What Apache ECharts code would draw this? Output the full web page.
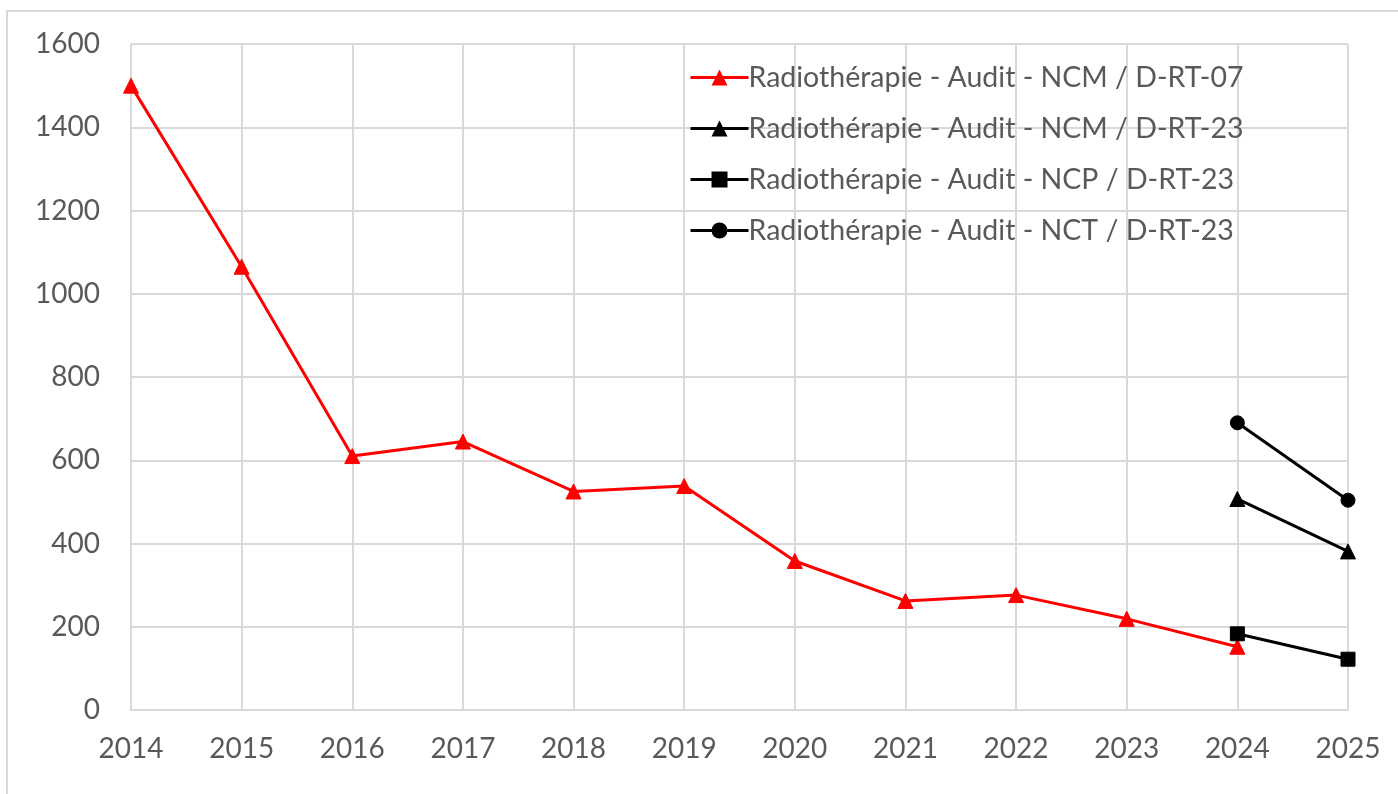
<!DOCTYPE html>
<html>
<head>
<meta charset="utf-8">
<script src="https://cdn.jsdelivr.net/npm/echarts@6/dist/echarts.min.js"></script>
<style>
html, body { margin: 0; padding: 0; background: #fff; }
#main { width: 1398px; height: 794px; }
</style>
</head>
<body>
<div id="main"></div>
<script>
var years = ['2014', '2015', '2016', '2017', '2018', '2019', '2020', '2021', '2022', '2023', '2024', '2025']
var ncm07 = [1500, 1065, 610, 645, 525, 538, 358, 262, 276, 219, 152, null]
var ncm23 = [null, null, null, null, null, null, null, null, null, null, 507, 381]
var ncp23 = [null, null, null, null, null, null, null, null, null, null, 183, 122]
var nct23 = [null, null, null, null, null, null, null, null, null, null, 690, 504]
var yTicks = [0, 200, 400, 600, 800, 1000, 1200, 1400, 1600]

var font = 'Lato, "Open Sans", sans-serif'
var textColor = '#595959'
var gridColor = '#d9d9d9'

function mkSeries(name, data, color, symbol, size) {
    return {
        name: name,
        type: 'line',
        data: data,
        symbol: symbol,
        symbolSize: size,
        showAllSymbol: true,
        connectNulls: false,
        lineStyle: { color: color, width: 3 },
        itemStyle: { color: color, borderColor: color },
        emphasis: { disabled: true },
        z: 3
    }
}

var chart = echarts.init(document.getElementById('main'))
var option = {
    backgroundColor: '#fff',
    animation: false,
    textStyle: { fontFamily: font },
    graphic: [{
        type: 'rect',
        shape: { x: 7, y: 11, width: 1400, height: 800 },
        style: { fill: 'none', stroke: gridColor, lineWidth: 2 },
        silent: true
    }],
    grid: {
        left: 131,
        right: 50,
        top: 44,
        bottom: 84
    },
    legend: {
        orient: 'vertical',
        left: 684,
        top: 58,
        itemWidth: 58,
        itemHeight: 20,
        itemGap: 22,
        lineStyle: { width: 3 },
        textStyle: { color: textColor, fontSize: 28.5, fontFamily: font, padding: [0, 0, 0, -5] },
        data: [
            'Radiothérapie - Audit - NCM / D-RT-07',
            'Radiothérapie - Audit - NCM / D-RT-23',
            'Radiothérapie - Audit - NCP / D-RT-23',
            'Radiothérapie - Audit - NCT / D-RT-23'
        ]
    },
    xAxis: {
        type: 'category',
        boundaryGap: false,
        data: years,
        axisLine: { show: true, lineStyle: { color: gridColor, width: 2 } },
        axisTick: { show: false },
        axisLabel: { color: textColor, fontSize: 28, margin: 25, fontFamily: font },
        splitLine: { show: true, lineStyle: { color: gridColor, width: 2 } }
    },
    yAxis: {
        type: 'value',
        min: yTicks[0],
        max: yTicks[yTicks.length - 1],
        interval: 200,
        axisLine: { show: false },
        axisTick: { show: false },
        axisLabel: { color: textColor, fontSize: 28, margin: 31, fontFamily: font, formatter: function (v) { return String(v) } },
        splitLine: { show: true, lineStyle: { color: gridColor, width: 2 } }
    },
    series: [
        mkSeries('Radiothérapie - Audit - NCM / D-RT-07', ncm07, '#ff0000', 'triangle', 15),
        mkSeries('Radiothérapie - Audit - NCM / D-RT-23', ncm23, '#000000', 'triangle', 15),
        mkSeries('Radiothérapie - Audit - NCP / D-RT-23', ncp23, '#000000', 'rect', 14),
        mkSeries('Radiothérapie - Audit - NCT / D-RT-23', nct23, '#000000', 'circle', 14)
    ]
}
chart.setOption(option)
</script>
</body>
</html>
